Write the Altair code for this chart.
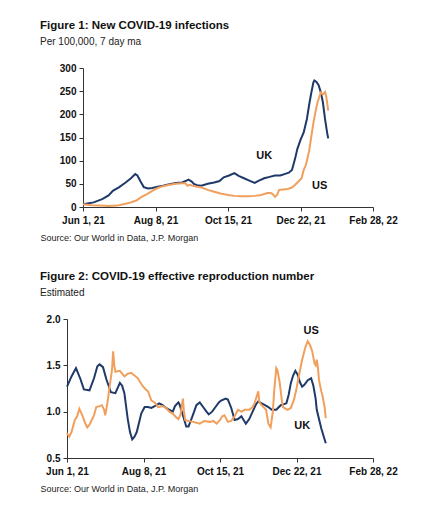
import altair as alt
import pandas as pd

START = pd.Timestamp("2021-06-01")

# ---- Figure 1: new infections per 100,000 (7 day ma) ----
uk_cases_day = [0, 10, 18, 24, 28, 34, 40, 45, 49, 51, 54, 57, 61, 65, 70, 75, 81, 87, 93, 97, 99, 102, 104, 107, 111,
                117, 123, 128, 132, 137, 142, 146, 151, 156, 161, 165, 170, 175, 180, 185, 189, 193, 196, 199, 201,
                204, 207, 210, 212, 214, 216, 217, 219, 221, 223, 225, 227, 229, 230]
uk_cases = [6, 10, 17, 25, 35, 43, 53, 62, 71, 68, 55, 43, 40, 41, 44, 46, 49, 52, 53, 57, 59, 55, 50, 47, 46,
            50, 53, 56, 64, 68, 73, 67, 62, 57, 52, 57, 62, 65, 68, 68, 71, 74, 80, 105, 125,
            145, 161, 190, 219, 245, 268, 273, 270, 263, 248, 226, 190, 160, 148]

us_cases_day = [0, 8, 16, 24, 32, 40, 45, 50, 55, 60, 65, 70, 75, 81, 87, 93, 96, 98, 100, 104, 111, 117, 123, 129,
                136, 142, 148, 155, 161, 167, 173, 176, 178, 180, 182, 184, 188, 192, 196, 199, 202, 205, 207, 209,
                211, 212, 214, 216, 218, 220, 222, 223, 225, 227, 228, 229, 230]
us_cases = [6, 4, 3, 2, 3, 7, 10, 14, 22, 28, 35, 41, 45, 48, 50, 51, 51, 46, 48, 45, 42, 37, 33, 29,
            26, 24, 23, 23, 24, 26, 30, 30, 28, 22, 26, 37, 38, 39, 42, 48, 55, 62, 80, 90,
            110, 120, 150, 180, 205, 226, 240, 247, 243, 248, 240, 225, 208]

# ---- Figure 2: effective reproduction number ----
uk_r_day = [0, 4, 8, 12, 15, 20, 24, 27, 29, 32, 35, 39, 43, 47, 49, 51, 54, 56, 58, 60, 62, 66, 69, 72, 75, 78,
            82, 85, 88, 91, 94, 96, 99, 100, 102, 104, 106, 108, 110, 113, 115, 118, 121, 124, 126, 129, 132,
            135, 137, 141, 143, 146, 149, 152, 155, 159, 162, 165, 168, 170, 173, 176, 179, 182, 186, 190, 195,
            197, 199, 201, 203, 205, 207, 209, 211, 214, 217, 219, 221, 222, 224, 226, 228, 230]
uk_r = [1.27, 1.38, 1.47, 1.35, 1.24, 1.23, 1.36, 1.49, 1.51, 1.48, 1.35, 1.21, 1.20, 1.31, 1.28, 1.20, 0.92,
        0.78, 0.70, 0.73, 0.78, 0.98, 1.05, 1.05, 1.04, 1.06, 1.09, 1.07, 1.04, 1.02, 1.00, 1.06, 1.10, 1.08,
        1.00, 0.92, 0.84, 0.84, 0.90, 1.00, 1.07, 1.10, 1.05, 1.00, 0.97, 1.00, 1.05, 1.10, 1.12, 1.14, 1.13,
        1.04, 0.91, 0.92, 0.95, 0.87, 0.92, 1.00, 1.08, 1.11, 1.09, 1.07, 1.05, 1.02, 1.02, 1.07, 1.09, 1.18,
        1.31, 1.39, 1.44, 1.40, 1.32, 1.27, 1.29, 1.34, 1.36, 1.28, 1.14, 1.02, 0.92, 0.82, 0.74, 0.66]

us_r_day = [0, 2, 4, 7, 9, 11, 14, 16, 18, 20, 22, 24, 26, 29, 31, 33, 34, 36, 38, 40, 41, 42, 43, 47, 51, 54,
            57, 60, 63, 67, 70, 72, 75, 78, 81, 85, 88, 91, 94, 97, 99, 101, 103, 104, 105, 108, 112, 118, 122,
            127, 130, 133, 136, 138, 140, 143, 146, 149, 152, 155, 158, 162, 165, 167, 170, 171, 173, 177, 179,
            181, 183, 184, 186, 187, 189, 191, 192, 196, 199, 202, 204, 206, 209, 212, 214, 216, 218, 220, 221,
            222, 223, 224, 226, 227, 229, 230]
us_r = [0.77, 0.73, 0.78, 0.91, 0.95, 1.03, 0.95, 0.88, 0.83, 0.86, 0.91, 0.96, 1.05, 1.06, 1.07, 1.02, 0.96,
        1.10, 1.28, 1.45, 1.65, 1.50, 1.43, 1.44, 1.38, 1.41, 1.42, 1.39, 1.36, 1.28, 1.24, 1.22, 1.12, 1.10,
        1.05, 1.06, 1.04, 1.00, 0.98, 0.94, 0.92, 0.97, 1.14, 1.00, 0.91, 0.90, 0.89, 0.87, 0.90, 0.89, 0.90,
        0.87, 0.91, 0.95, 0.96, 0.89, 0.90, 0.95, 1.02, 1.00, 1.02, 1.02, 1.05, 1.10, 1.22, 1.10, 1.07, 1.02,
        0.87, 0.83, 1.00, 1.20, 1.47, 1.45, 1.32, 1.12, 1.05, 1.02, 1.04, 1.14, 1.25, 1.38, 1.56, 1.70, 1.76,
        1.72, 1.65, 1.52, 1.50, 1.56, 1.48, 1.34, 1.22, 1.18, 1.05, 0.93]

# series labels (country, day, value)
cases_labels = {"label": ["UK", "US"], "day": [170, 222], "value": [109, 45]}
r_labels = {"label": ["US", "UK"], "day": [217, 209], "value": [1.87, 0.85]}

x_ticks = ["2021-06-01", "2021-08-08", "2021-10-15", "2021-12-22", "2022-02-28"]

NAVY = "#1f3a68"
ORANGE = "#f0a05c"
FONT = "Liberation Sans"


def to_date(days):
    return [(START + pd.Timedelta(days=int(d))).strftime("%Y-%m-%d") for d in days]


def series_frame(pairs):
    frames = []
    for name, days, vals in pairs:
        frames.append(pd.DataFrame({"date": to_date(days), "value": vals, "country": name}))
    return pd.concat(frames, ignore_index=True)


cases_df = series_frame([("UK", uk_cases_day, uk_cases), ("US", us_cases_day, us_cases)])
r_df = series_frame([("UK", uk_r_day, uk_r), ("US", us_r_day, us_r)])
cases_lab = pd.DataFrame({"label": cases_labels["label"], "date": to_date(cases_labels["day"]),
                          "value": cases_labels["value"]})
r_lab = pd.DataFrame({"label": r_labels["label"], "date": to_date(r_labels["day"]), "value": r_labels["value"]})

tick_dt = [alt.DateTime(year=int(s[:4]), month=int(s[5:7]), date=int(s[8:]), utc=True) for s in x_ticks]


def panel(df, lab, title, subtitle, width, ydomain, yvalues, yformat, dx):
    x = alt.X("date:T",
              scale=alt.Scale(type="utc", domain=[tick_dt[0], tick_dt[-1]]),
              axis=alt.Axis(values=tick_dt, labelExpr="utcFormat(datum.value, '%b %-d, %y')",
                            labelOverlap=False, labelBound=False, labelFlush=False,
                            title="Source: Our World in Data, J.P. Morgan",
                            titleAnchor="start", titleAlign="left", titleX=dx, titleY=33,
                            titleBaseline="alphabetic", titleFontWeight="normal",
                            titleFontSize=9, titleFont=FONT, titleColor="#222",
                            labelAngle=0, labelPadding=4))
    y = alt.Y("value:Q", scale=alt.Scale(domain=ydomain, nice=False, zero=False),
              axis=alt.Axis(values=yvalues, format=yformat, title=None, labelPadding=3,
                            labelOverlap=False, labelBound=False, labelFlush=False))
    lines = alt.Chart(df).mark_line(strokeWidth=2).encode(
        x=x, y=y,
        color=alt.Color("country:N", scale=alt.Scale(domain=["UK", "US"], range=[NAVY, ORANGE]), legend=None),
    )
    texts = alt.Chart(lab).mark_text(font=FONT, fontWeight="bold", fontSize=11, color="#111").encode(
        x=x, y=y, text="label:N")
    return alt.layer(lines, texts).properties(
        width=width, height=139,
        title=alt.TitleParams(text=title, subtitle=subtitle, anchor="start", frame="group", dx=dx,
                              font=FONT, fontSize=11.5, fontWeight="bold", color="#111",
                              subtitleFont=FONT, subtitleFontSize=10, subtitleColor="#222",
                              subtitlePadding=6, offset=16),
    )


def spacer():
    return alt.Chart(pd.DataFrame({"s": [0]})).mark_point(opacity=0).encode(
        x=alt.value(0), y=alt.value(0)).properties(width=1, height=1)


top = panel(cases_df, cases_lab, "Figure 1: New COVID-19 infections", "Per 100,000, 7 day ma",
            290, [0, 300], [0, 50, 100, 150, 200, 250, 300], "d", -43)
bottom = panel(r_df, r_lab, "Figure 2: COVID-19 effective reproduction number", "Estimated",
               306, [0.5, 2.0], [0.5, 1.0, 1.5, 2.0], ".1f", -27)

chart = alt.vconcat(
    alt.hconcat(spacer(), top, spacing=0),
    alt.hconcat(spacer(), bottom, spacing=0),
    spacing=28,
).properties(
    padding={"left": 26, "top": 11, "right": 5, "bottom": 5}
).configure(font=FONT).configure_view(stroke=None).configure_axis(
    grid=False, labelFont=FONT, labelFontWeight="bold", labelFontSize=10, labelColor="#111",
    domainColor="#333", tickColor="#333", tickSize=4, domainWidth=1,
)

chart.save("out.html", embed_options={"renderer": "svg", "actions": False})
